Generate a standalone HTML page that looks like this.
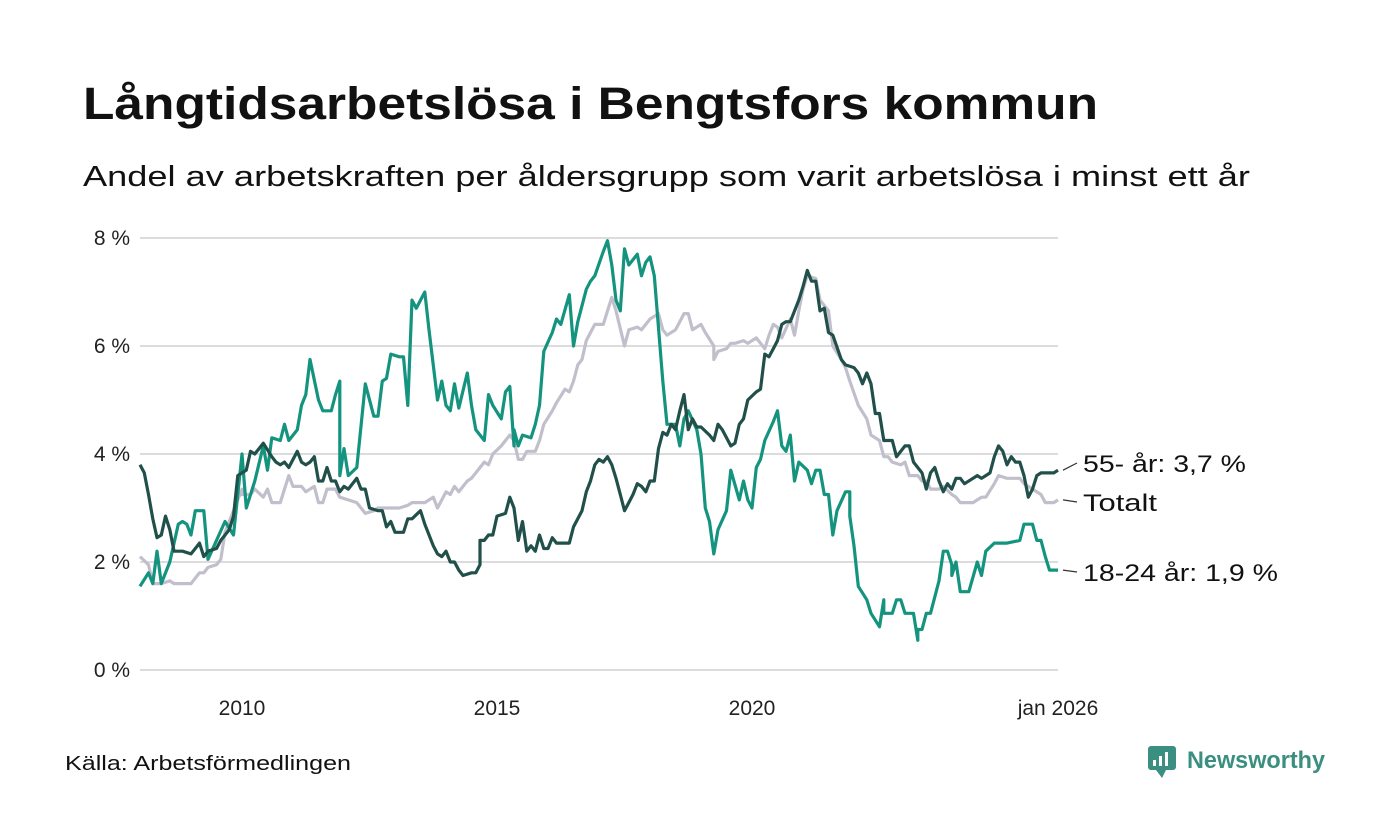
<!DOCTYPE html>
<html><head><meta charset="utf-8">
<style>
body{margin:0;background:#fff;}
#wrap{position:relative;width:1400px;height:840px;overflow:hidden;font-family:"Liberation Sans",sans-serif;color:#111;}
svg text{font-family:"Liberation Sans",sans-serif;}
</style></head>
<body>
<div id="wrap">
<svg id="chart" width="1400" height="840">
<text x="83" y="119" font-size="45" font-weight="bold" fill="#111" textLength="1015" lengthAdjust="spacingAndGlyphs">Långtidsarbetslösa i Bengtsfors kommun</text>
<text x="83" y="186" font-size="29" fill="#111" textLength="1167" lengthAdjust="spacingAndGlyphs">Andel av arbetskraften per åldersgrupp som varit arbetslösa i minst ett år</text>
<g id="grid"></g>
<g id="yaxis"></g>
<g id="xaxis"></g>
<g id="lines"></g>
<g id="labels"></g>
<text x="65" y="770" font-size="20" fill="#111" textLength="286" lengthAdjust="spacingAndGlyphs">Källa: Arbetsförmedlingen</text>
<g>
<rect x="1148" y="746" width="28" height="24" rx="3" fill="#3a8f80"/>
<path d="M1156 770 L1162 778 L1166 770 Z" fill="#3a8f80"/>
<rect x="1153" y="760" width="3" height="6" fill="#fff"/><rect x="1159" y="756" width="3" height="10" fill="#fff"/><rect x="1165" y="752" width="3" height="14" fill="#fff"/>
<text x="1187" y="768" font-size="24" font-weight="bold" fill="#3a8f80" textLength="138" lengthAdjust="spacingAndGlyphs">Newsworthy</text>
</g>
</svg>
</div>
<script>
// month index from jan 2008 (0) to jan 2026 (216), value in %
const yTicks = [0, 2, 4, 6, 8];
const yTickLabels = ["0 %", "2 %", "4 %", "6 %", "8 %"];
const xTickMonths = [24, 84, 144, 216];
const xTickLabels = ["2010", "2015", "2020", "jan 2026"];
const totalSeries = [[0,2.1],[2,1.95],[3,1.6],[5,1.6],[7,1.65],[8,1.6],[12,1.6],[14,1.8],[15,1.8],[16,1.9],[18,1.95],[19,2.05],[20,2.55],[22,2.95],[24,3.35],[24,3.25],[26,3.25],[27,3.35],[29,3.2],[30,3.35],[31,3.1],[33,3.1],[34,3.35],[35,3.6],[36,3.4],[38,3.4],[39,3.3],[41,3.4],[42,3.1],[43,3.1],[44,3.35],[46,3.35],[47,3.2],[49,3.15],[51,3.1],[53,2.9],[55,2.95],[56,3.0],[61,3.0],[63,3.05],[64,3.1],[67,3.1],[69,3.2],[70,3.0],[71,3.15],[72,3.3],[73,3.25],[74,3.4],[75,3.3],[77,3.5],[78,3.55],[79,3.65],[81,3.85],[82,3.8],[83,4.0],[85,4.15],[86,4.25],[87,4.35],[88,4.25],[89,3.9],[90,3.9],[91,4.05],[93,4.05],[94,4.25],[95,4.55],[97,4.8],[98,4.95],[100,5.2],[101,5.15],[102,5.35],[103,5.65],[104,5.75],[105,6.1],[107,6.4],[109,6.4],[110,6.65],[111,6.9],[112,6.65],[114,6.0],[115,6.3],[117,6.35],[118,6.3],[119,6.4],[120,6.5],[121,6.55],[122,6.6],[123,6.3],[124,6.2],[126,6.3],[127,6.45],[128,6.6],[129,6.6],[130,6.3],[132,6.4],[133,6.25],[135,6.0],[135,5.75],[136,5.9],[138,5.95],[139,6.05],[140,6.05],[142,6.1],[143,6.05],[144,6.1],[145,6.15],[147,5.95],[148,6.2],[149,6.4],[150,6.35],[151,6.15],[153,6.5],[154,6.2],[155,6.65],[156,7.05],[157,7.3],[159,7.25],[160,6.85],[162,6.65],[163,6.0],[165,5.75],[166,5.6],[167,5.35],[169,4.9],[171,4.65],[172,4.35],[174,4.25],[175,3.95],[176,3.95],[177,3.85],[179,3.8],[180,3.85],[181,3.6],[183,3.6],[184,3.5],[185,3.5],[186,3.35],[188,3.35],[189,3.4],[191,3.25],[192,3.2],[193,3.1],[196,3.1],[198,3.2],[199,3.2],[201,3.45],[202,3.6],[204,3.55],[206,3.55],[207,3.55],[208,3.45],[210,3.35],[212,3.25],[213,3.1],[215,3.1],[216,3.15]];
const youthSeries = [[0,1.55],[2,1.8],[3,1.6],[4,2.2],[5,1.6],[7,2.0],[9,2.7],[10,2.75],[11,2.7],[12,2.5],[13,2.95],[15,2.95],[16,2.05],[18,2.4],[20,2.75],[22,2.5],[24,4.0],[25,3.0],[27,3.5],[29,4.15],[30,3.7],[31,4.3],[33,4.25],[34,4.55],[35,4.25],[37,4.45],[38,4.9],[39,5.1],[40,5.75],[42,5.0],[43,4.8],[45,4.8],[46,5.1],[47,5.35],[47,3.6],[48,4.1],[49,3.6],[51,3.75],[53,5.3],[55,4.7],[56,4.7],[57,5.35],[58,5.4],[59,5.85],[61,5.8],[62,5.8],[63,4.9],[64,6.85],[65,6.7],[67,7.0],[68,6.3],[70,5.0],[71,5.35],[72,4.9],[73,4.8],[74,5.3],[75,4.85],[77,5.5],[78,4.9],[79,4.45],[81,4.25],[82,5.1],[83,4.9],[85,4.65],[86,5.15],[87,5.25],[88,4.15],[88,4.45],[89,4.15],[90,4.35],[92,4.3],[93,4.55],[94,4.9],[95,5.9],[97,6.25],[98,6.5],[99,6.4],[101,6.95],[102,6.0],[103,6.45],[105,7.05],[106,7.2],[107,7.3],[109,7.75],[110,7.95],[111,7.5],[112,6.85],[113,6.65],[114,7.8],[115,7.5],[117,7.7],[118,7.3],[119,7.55],[120,7.65],[121,7.3],[123,5.35],[124,4.55],[126,4.55],[127,4.15],[128,4.65],[129,4.8],[131,4.45],[132,4.0],[133,3.0],[134,2.75],[135,2.15],[135,2.15],[136,2.6],[138,2.95],[139,3.7],[141,3.15],[142,3.5],[143,3.15],[144,3.0],[145,3.75],[146,3.9],[147,4.25],[149,4.6],[150,4.8],[151,4.15],[152,4.05],[153,4.35],[154,3.5],[155,3.85],[157,3.7],[158,3.45],[159,3.7],[160,3.7],[161,3.25],[162,3.25],[163,2.5],[164,2.95],[166,3.3],[167,3.3],[167,2.85],[168,2.3],[169,1.55],[171,1.3],[172,1.05],[174,0.8],[175,1.3],[175,1.05],[177,1.05],[178,1.3],[179,1.3],[180,1.05],[182,1.05],[183,0.55],[183,0.75],[184,0.75],[185,1.05],[186,1.05],[188,1.65],[189,2.2],[190,2.2],[191,1.95],[191,1.75],[192,2.0],[193,1.45],[195,1.45],[197,2.0],[198,1.75],[199,2.2],[201,2.35],[204,2.35],[207,2.4],[208,2.7],[210,2.7],[211,2.4],[212,2.4],[213,2.1],[214,1.85],[216,1.85]];
const olderSeries = [[0,3.8],[1,3.65],[2,3.25],[3,2.8],[4,2.45],[5,2.5],[6,2.85],[7,2.6],[8,2.2],[10,2.2],[12,2.15],[13,2.25],[14,2.35],[15,2.1],[16,2.2],[18,2.25],[19,2.4],[21,2.6],[22,2.85],[23,3.6],[24,3.65],[25,3.7],[26,4.05],[27,4.0],[29,4.2],[31,3.95],[32,3.85],[33,3.8],[34,3.85],[35,3.75],[37,4.05],[38,3.85],[39,3.8],[40,3.85],[41,3.95],[42,3.5],[43,3.5],[44,3.75],[45,3.5],[46,3.5],[47,3.3],[48,3.4],[49,3.35],[51,3.55],[52,3.35],[53,3.35],[54,3.0],[56,2.95],[57,2.95],[58,2.65],[59,2.75],[60,2.55],[62,2.55],[63,2.8],[64,2.8],[66,2.95],[67,2.7],[69,2.3],[70,2.15],[71,2.1],[72,2.2],[73,2.0],[74,2.0],[75,1.85],[76,1.75],[78,1.8],[79,1.8],[80,1.95],[80,2.4],[81,2.4],[82,2.5],[83,2.5],[84,2.85],[86,2.9],[87,3.2],[88,3.0],[89,2.4],[90,2.75],[91,2.2],[92,2.3],[93,2.2],[94,2.5],[95,2.25],[96,2.25],[97,2.45],[98,2.35],[101,2.35],[102,2.65],[104,2.95],[105,3.3],[106,3.5],[107,3.8],[108,3.9],[109,3.85],[110,3.95],[111,3.8],[112,3.55],[113,3.25],[114,2.95],[115,3.1],[116,3.25],[117,3.45],[118,3.4],[119,3.3],[120,3.5],[121,3.5],[122,4.1],[123,4.4],[124,4.35],[125,4.55],[126,4.45],[127,4.8],[128,5.1],[129,4.45],[130,4.65],[131,4.5],[132,4.5],[134,4.35],[135,4.25],[136,4.55],[137,4.45],[139,4.15],[140,4.2],[141,4.55],[142,4.65],[143,5.0],[145,5.15],[146,5.2],[147,5.85],[148,5.8],[149,5.95],[150,6.1],[151,6.4],[152,6.45],[153,6.45],[155,6.85],[156,7.1],[157,7.4],[158,7.2],[159,7.2],[160,6.65],[161,6.7],[162,6.25],[163,6.2],[165,5.75],[166,5.65],[168,5.6],[169,5.5],[170,5.3],[171,5.5],[172,5.3],[173,4.75],[174,4.75],[175,4.25],[177,4.25],[178,3.95],[180,4.15],[181,4.15],[182,3.85],[184,3.65],[185,3.35],[186,3.65],[187,3.75],[188,3.5],[189,3.3],[190,3.45],[191,3.35],[192,3.55],[193,3.55],[194,3.45],[196,3.55],[197,3.6],[198,3.55],[199,3.6],[200,3.65],[201,3.95],[202,4.15],[203,4.05],[204,3.8],[205,3.95],[206,3.85],[207,3.85],[208,3.6],[209,3.2],[210,3.35],[211,3.6],[212,3.65],[215,3.65],[216,3.7]];
const seriesNames = ["Totalt", "18-24 år", "55- år"];

const NS = "http://www.w3.org/2000/svg";
const X0 = 140, X1 = 1058, Y0 = 670, Y8 = 238;
function xPos(m){ return X0 + (X1 - X0) * m / 216; }
function yPos(v){ return Y0 - (Y0 - Y8) * v / 8; }
function mk(tag, attrs, parent){ const e = document.createElementNS(NS, tag); for (const k in attrs) e.setAttribute(k, attrs[k]); parent.appendChild(e); return e; }

const grid = document.getElementById('grid'), yax = document.getElementById('yaxis'), xax = document.getElementById('xaxis');
yTicks.forEach((t, i) => {
  const ln = mk('line', {x1: X0, x2: X1, y1: yPos(t), y2: yPos(t), stroke: '#dcdcdf', 'stroke-width': 2}, grid);
  
  
  const tx = mk('text', {x: 130, y: yPos(t) + 7, 'font-size': 21, 'text-anchor': 'end', fill: '#222'}, yax);
  tx.textContent = yTickLabels[i];
  
  
});
xTickMonths.forEach((m, i) => {
  const tx = mk('text', {x: xPos(m), y: 715, 'font-size': 21, 'text-anchor': 'middle', fill: '#222'}, xax);
  tx.textContent = xTickLabels[i];
  
  
});

const lines = document.getElementById('lines');
const defs = [[totalSeries, '#c2bfcc', 'line-totalt'], [youthSeries, '#14937f', 'line-18-24'], [olderSeries, '#21504a', 'line-55-plus']];
defs.forEach(d => {
  const pts = d[0].map(p => xPos(p[0]).toFixed(1) + ',' + yPos(p[1]).toFixed(1)).join(' ');
  const pl = mk('polyline', {points: pts, fill: 'none', stroke: d[1], 'stroke-width': 3.2, 'stroke-linejoin': 'round'}, lines);
  
  
});

const labels = document.getElementById('labels');
const lastO = olderSeries[olderSeries.length - 1][1], lastT = totalSeries[totalSeries.length - 1][1], lastY = youthSeries[youthSeries.length - 1][1];
const fmt = v => v.toFixed(1).replace('.', ',');
const lab = [[lastO, 463, seriesNames[2] + ': ' + fmt(lastO) + ' %', 'label-55-plus', 163], [lastT, 502, seriesNames[0], 'label-totalt', 74], [lastY, 572, seriesNames[1] + ': ' + fmt(lastY) + ' %', 'label-18-24', 195]];
lab.forEach(l => {
  const c = mk('line', {x1: 1063, y1: yPos(l[0]), x2: 1077, y2: l[1], stroke: '#333', 'stroke-width': 1.2}, labels);
  
  
  const t = mk('text', {x: 1083, y: l[1] + 9, 'font-size': 24, fill: '#111', textLength: l[4], lengthAdjust: 'spacingAndGlyphs'}, labels);
  t.textContent = l[2];
  
  
});
</script>
</body></html>
